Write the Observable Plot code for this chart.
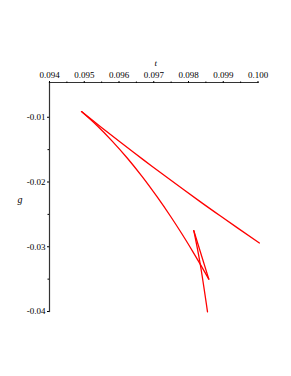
<!DOCTYPE html>
<html>
<head>
<meta charset="utf-8">
<script src="https://cdn.jsdelivr.net/npm/d3@7"></script>
<script src="https://cdn.jsdelivr.net/npm/@observablehq/plot@0.6"></script>
<style>
  html, body { margin: 0; padding: 0; background: #fff; }
  #chart svg { display: block; }
</style>
</head>
<body>
<div id="chart"></div>
<script>
// Curve traced piecewise: upper branch (right end -> tip), lower branch (tip -> cusp),
// return stroke (cusp -> upper cusp), final strand (down to bottom)
const segments = ["upper", "lower", "return", "final"];
const upperT = [0.10004, 0.098921, 0.098345, 0.097338, 0.096714, 0.096043, 0.095468, 0.094921];
const upperG = [-0.02942, -0.02526, -0.02307, -0.01912, -0.01662, -0.01387, -0.01145, -0.00912];
const lowerT = [0.094921, 0.095373, 0.095804, 0.096236, 0.096668, 0.097099, 0.097482, 0.097827, 0.098115, 0.098345, 0.098584];
const lowerG = [-0.00912, -0.01131, -0.01368, -0.01629, -0.01917, -0.02231, -0.02529, -0.02815, -0.03067, -0.03276, -0.03500];
const returnT = [0.098584, 0.098153];
const returnG = [-0.03500, -0.02752];
const finalT = [0.098153, 0.098331, 0.098547];
const finalG = [-0.02752, -0.03247, -0.04005];

const xTicks = [0.094, 0.095, 0.096, 0.097, 0.098, 0.099, 0.100];
const yTicks = [-0.01, -0.02, -0.03, -0.04];
const xMinor = [0.0945, 0.0955, 0.0965, 0.0975, 0.0985, 0.0995];
const yMinor = [-0.015, -0.025, -0.035];

const parts = [[upperT, upperG], [lowerT, lowerG], [returnT, returnG], [finalT, finalG]];
const curve = parts.flatMap(([ts, gs], k) => ts.map((t, i) => ({t, g: gs[i], seg: segments[k]})));

const serif = "'Liberation Serif', 'DejaVu Serif', serif";

const plot = Plot.plot({
  width: 291,
  height: 376,
  marginLeft: 49,
  marginRight: 33.5,
  marginTop: 82,
  marginBottom: 65,
  style: {fontFamily: serif, fontSize: "9px", background: "#fff", color: "#000"},
  x: {domain: [0.094, 0.100]},
  y: {domain: [-0.04, -0.00463]},
  marks: [
    Plot.frame({anchor: "top", stroke: "#333", strokeWidth: 1.2}),
    Plot.frame({anchor: "left", stroke: "#333", strokeWidth: 1.2}),
    Plot.axisX({anchor: "top", ticks: xTicks, tickSize: 2, tickPadding: 3,
                tickFormat: d3.format(".3f"), label: null, fontSize: 9}),
    Plot.axisX({anchor: "top", ticks: xMinor, tickSize: 1.5, tickFormat: () => "", label: null}),
    Plot.axisY({anchor: "left", ticks: yTicks, tickSize: 2, tickPadding: 2,
                tickFormat: d => d3.format(".2f")(d).replace("\u2212", "-"), label: null, fontSize: 9}),
    Plot.axisY({anchor: "left", ticks: yMinor, tickSize: 1.5, tickFormat: () => "", label: null}),
    Plot.text(["t"], {frameAnchor: "top", dx: 2, dy: -23, fontStyle: "italic", fontSize: 9, fill: "black"}),
    Plot.text(["g"], {frameAnchor: "left", dx: -32, dy: 3, fontStyle: "italic", fontSize: 10, fill: "black"}),
    Plot.line(curve, {x: "t", y: "g", z: "seg", stroke: "#ff0000", strokeWidth: 1.3, curve: "catmull-rom"})
  ]
});
document.getElementById("chart").appendChild(plot);
</script>
</body>
</html>
